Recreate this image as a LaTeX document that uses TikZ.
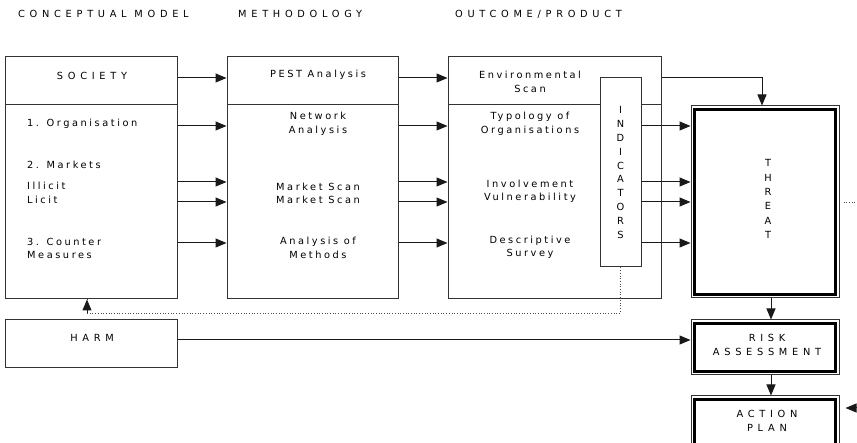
\documentclass[tikz,border=0pt]{standalone}
\usepackage{fontspec}
\setmainfont{DejaVu Sans}[LetterSpace=26]
\newfontfamily\capsf{DejaVu Sans}[LetterSpace=48]
\newfontfamily\plainf{DejaVu Sans}
\usetikzlibrary{arrows.meta}
\begin{document}
\begin{tikzpicture}[x=1pt,y=-1pt,
  box/.style={draw=black!80, line width=1pt, rectangle, inner sep=0pt, fill=white},
  conn/.style={draw=black!90, line width=1pt, -{Triangle[length=11pt,width=9pt]}},
  dotconn/.style={draw=black!70, line width=0.7pt, dotted},
  txt/.style={inner sep=0pt, font=\fontsize{9.8}{13.5}\selectfont, text=black},
  ctxt/.style={txt, align=center},
  ltxt/.style={txt, anchor=west, align=left},
  captxt/.style={inner sep=0pt, font=\capsf\fontsize{9.8}{14}\selectfont, text=black, align=center},
  stack/.style={inner sep=0pt, font=\plainf\fontsize{9.8}{13.9}\selectfont, align=center, text=black},
  thickframe/.style={line width=3.2pt, draw=black}
]
\path[use as bounding box, clip] (0,0) rectangle (857,443);
\fill[white] (0,0) rectangle (857,443);

% headers
\node[captxt, anchor=west] (h1) at (18,14) {CONCEPTUAL MODEL};
\node[captxt, anchor=west] (h2) at (238,14) {METHODOLOGY};
\node[captxt, anchor=west] (h3) at (455,14) {OUTCOME/PRODUCT};

% main boxes
\node[box, minimum width=172pt, minimum height=242pt] (soc) at (91,178) {};
\node[box, minimum width=171pt, minimum height=242pt] (meth) at (312.5,178) {};
\node[box, minimum width=213pt, minimum height=242pt] (out) at (554.5,178) {};
\draw[draw=black!80, line width=1pt] (soc.west |- 0,105) -- (soc.east |- 0,105);
\draw[draw=black!80, line width=1pt] (meth.west |- 0,105) -- (meth.east |- 0,105);
\draw[draw=black!80, line width=1pt] (out.west |- 0,105) -- (out.east |- 0,105);
\node[box, minimum width=41pt, minimum height=189pt] (ind) at (620.5,172.5) {};

\node[box, minimum width=172pt, minimum height=48pt] (harm) at (91,344) {};

% right column framed boxes
\node[box, minimum width=148pt, minimum height=192pt] (threat) at (765,202) {};
\node[box, minimum width=148pt, minimum height=55pt] (risk) at (765,347.5) {};
\node[box, minimum width=148pt, minimum height=56pt] (action) at (765,424) {};
\foreach \n in {threat,risk,action}
  \draw[thickframe] ([shift={(4,4)}]\n.north west) rectangle ([shift={(-4,-4)}]\n.south east);

% texts: society
\node[captxt] (tsoc) at (92,76) {SOCIETY};
\node[ltxt] (t1) at (27,124) {1. Organisation};
\node[ltxt] (t2) at (27,165) {2. Markets};
\node[ltxt] (t3) at (27,186) {Illicit};
\node[ltxt] (t4) at (27,200) {Licit};
\node[ltxt] (t5) at (27,248.5) {3. Counter\\Measures};

% methodology
\node[ctxt] (m0) at (318,75) {PEST Analysis};
\node[ctxt] (m1) at (318,124) {Network\\Analysis};
\node[ctxt] (m2) at (318,193.5) {Market Scan\\Market Scan};
\node[ctxt] (m3) at (318,248) {Analysis of\\Methods};

% outcome
\node[ctxt] (o0) at (530,82) {Environmental\\Scan};
\node[ctxt] (o1) at (530,124) {Typology of\\Organisations};
\node[ctxt] (o2) at (530,191.5) {Involvement\\Vulnerability};
\node[ctxt] (o3) at (530,247.5) {Descriptive\\Survey};

\node[stack] (tind) at (ind.center) {I\\N\\D\\I\\C\\A\\T\\O\\R\\S};
\node[stack, font=\plainf\fontsize{9.8}{14.3}\selectfont] (tthr) at (768,199) {T\\H\\R\\E\\A\\T};

\node[captxt] (trisk) at (767,345) {RISK\\ASSESSMENT};
\node[captxt] (tact) at (767,420.5) {ACTION\\PLAN};
\node[captxt] (tharm) at (92,338) {HARM};

% connectors society -> methodology -> outcome
\foreach \y in {78,126,182,202,243} {
  \draw[conn] (soc.east |- 0,\y) -- (meth.west |- 0,\y);
  \draw[conn] (meth.east |- 0,\y) -- (out.west |- 0,\y);
}
\foreach \y in {126,182,202,243}
  \draw[conn] (ind.east |- 0,\y) -- (threat.west |- 0,\y);

\coordinate (envturn) at (762,78);
\draw[conn] (out.east |- envturn) -- (envturn) -- (envturn |- threat.north);
\draw[conn] ([xshift=6pt]threat.south) -- ([xshift=6pt]risk.north);
\draw[conn] ([xshift=6pt]risk.south) -- ([xshift=6pt]action.north);
\draw[conn] (harm.east |- 0,340) -- (risk.west |- 0,340);

% dotted feedback
\coordinate (fb1) at (620,313);
\coordinate (fb2) at (87,313);
\draw[dotconn] (ind.south -| fb1) -- (fb1) -- (fb2) -- (fb2 |- soc.south);
\draw[draw=black!90, line width=1pt, -{Triangle[length=11pt,width=9pt]}] ([yshift=-0.5pt]fb2) -- (fb2 |- soc.south);

% right edge
\coordinate (rdot) at (857,202);
\draw[dotconn] ([xshift=4pt]threat.east |- rdot) -- (rdot);
\coordinate (ract) at (860,408);
\draw[conn] (ract) -- ([xshift=6pt]action.east |- ract);
\end{tikzpicture}
\end{document}
